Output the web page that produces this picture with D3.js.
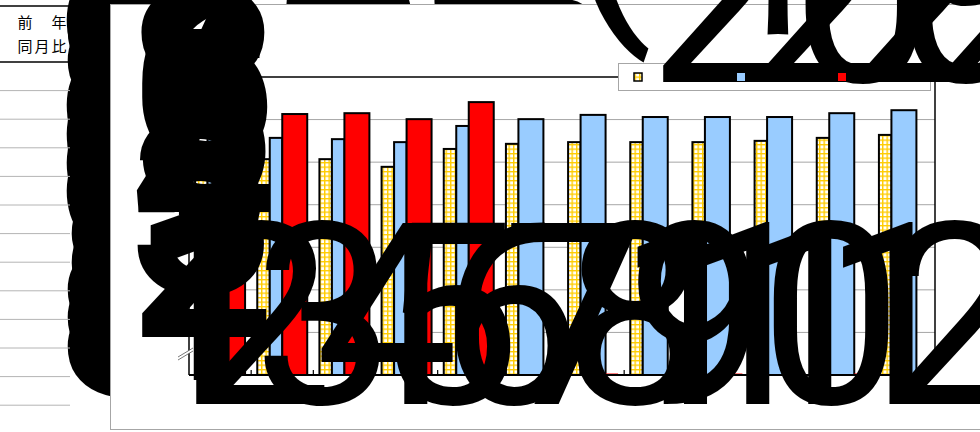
<!DOCTYPE html>
<html>
<head>
<meta charset="utf-8">
<script src="https://cdn.jsdelivr.net/npm/d3@7"></script>
<style>
  body { margin: 0; background: #fff; }
  svg { display: block; }
  .big { font-family: Roboto, "Liberation Sans", Arial, sans-serif; font-size: 255px; }
</style>
</head>
<body>
<div id="chart"></div>
<script>
// data
var months = [1, 2, 3, 4, 5, 6, 7, 8, 9, 10, 11, 12];
var monthLabels = ["1", "2", "3", "4", "5", "6", "7", "8", "9", "10", "11", "12"];
var seriesNames = ["2023年", "2024年", "2025年"];
var values2023 = [6.10, 6.07, 6.07, 5.89, 6.31, 6.43, 6.47, 6.47, 6.47, 6.50, 6.57, 6.64];
var values2024 = [6.59, 6.57, 6.54, 6.47, 6.85, 7.01, 7.11, 7.06, 7.06, 7.06, 7.15, 7.22];
var values2025 = [7.15, 7.13, 7.15, 7.01, 7.41, null, null, null, null, null, null, null];
var yTicks = [1, 2, 3, 4, 5, 6, 7, 8];
var unitLabel = "(千t)";
var tableHeader = ["前　年", "同月比"];

var W = 980, H = 432;

var svg = d3.select("#chart").append("svg")
    .attr("width", W)
    .attr("height", H);

var defs = svg.append("defs");
var pat = defs.append("pattern")
    .attr("id", "grid")
    .attr("patternUnits", "userSpaceOnUse")
    .attr("width", 4.5)
    .attr("height", 4.5);
pat.append("rect").attr("width", 4.5).attr("height", 4.5).attr("fill", "#fff");
pat.append("path")
    .attr("d", "M0,0.7H4.5M0.7,0V4.5")
    .attr("stroke", "#FFCC00")
    .attr("stroke-width", 1.4);

// ---- spreadsheet table on the left ----
var rowH = 28.6, tableTop = 62;
var table = svg.append("g");

// ratio column: latest year against the year before
var ratios = months.map(function (m, i) {
    var cur = values2025[i] != null ? values2025[i] : values2024[i];
    var prev = values2025[i] != null ? values2024[i] : values2023[i];
    return ((cur / prev - 1) * 100).toFixed(1) + "%";
});

table.selectAll("text.ratio")
    .data(ratios)
    .enter().append("text")
    .attr("class", "ratio big")
    .attr("x", 56)
    .attr("y", function (d, i) { return tableTop + (i + 0.5) * rowH + 5; })
    .style("font-weight", "bold")
    .text(function (d) { return d; });

table.selectAll("line.row")
    .data(d3.range(1, 13))
    .enter().append("line")
    .attr("x1", 0).attr("x2", 70)
    .attr("y1", function (d) { return tableTop + d * rowH; })
    .attr("y2", function (d) { return tableTop + d * rowH; })
    .attr("stroke", "#b4b4b4")
    .attr("stroke-width", 1);

table.append("line").attr("x1", 0).attr("x2", 72).attr("y1", 6).attr("y2", 6)
    .attr("stroke", "#000").attr("stroke-width", 1.5);
table.append("line").attr("x1", 0).attr("x2", 72).attr("y1", 62).attr("y2", 62)
    .attr("stroke", "#000").attr("stroke-width", 1.5);

table.selectAll("text.head")
    .data(tableHeader)
    .enter().append("text")
    .attr("class", "head")
    .attr("x", 43)
    .attr("y", function (d, i) { return 28 + i * 24; })
    .attr("text-anchor", "middle")
    .style("font-family", "'Noto Sans CJK JP', sans-serif")
    .style("font-size", "15px")
    .style("letter-spacing", "2px")
    .text(function (d) { return d; });

// ---- chart object ----
svg.append("rect")
    .attr("x", 110.5).attr("y", 4.5)
    .attr("width", 900).attr("height", 425)
    .attr("fill", "#fff")
    .attr("stroke", "#a6a6a6");

var plotLeft = 189, plotRight = 935, plotTop = 77, plotBottom = 375;

var x = d3.scaleBand()
    .domain(months)
    .range([plotLeft, plotRight])
    .paddingInner(0.196)
    .paddingOuter(0.098);

var y = d3.scaleLinear()
    .domain([yTicks[0], yTicks[yTicks.length - 1]])
    .range([plotBottom, plotTop]);

var plot = svg.append("g");

plot.selectAll("line.grid")
    .data(yTicks.slice(1, -1))
    .enter().append("line")
    .attr("x1", plotLeft).attr("x2", plotRight)
    .attr("y1", function (d) { return y(d); })
    .attr("y2", function (d) { return y(d); })
    .attr("stroke", "#a6a6a6")
    .attr("stroke-width", 1);

// bars: four slots per month, the last bar of a month takes two
var slot = x.bandwidth() / 4;
var bars = [];
months.forEach(function (m, i) {
    var x0 = x(m);
    var hasRed = values2025[i] != null;
    bars.push({ x: x0, w: slot, v: values2023[i], fill: "url(#grid)" });
    bars.push({ x: x0 + slot, w: hasRed ? slot : 2 * slot, v: values2024[i], fill: "#99CCFF" });
    if (hasRed) {
        bars.push({ x: x0 + 2 * slot, w: 2 * slot, v: values2025[i], fill: "#FF0000" });
    } else {
        bars.push({ x: x0 + 3 * slot, w: slot, v: null, fill: "#FF0000" });
    }
});

plot.selectAll("rect.bar")
    .data(bars.filter(function (d) { return d.v != null; }))
    .enter().append("rect")
    .attr("class", "bar")
    .attr("x", function (d) { return d.x; })
    .attr("y", function (d) { return y(d.v); })
    .attr("width", function (d) { return d.w; })
    .attr("height", function (d) { return plotBottom - y(d.v); })
    .attr("fill", function (d) { return d.fill; })
    .attr("stroke", "#000")
    .attr("stroke-width", 2);

plot.selectAll("rect.empty")
    .data(bars.filter(function (d) { return d.v == null; }))
    .enter().append("rect")
    .attr("class", "empty")
    .attr("x", function (d) { return d.x; })
    .attr("y", plotBottom - 1.5)
    .attr("width", function (d) { return d.w; })
    .attr("height", 1.5)
    .attr("fill", "#FF0000");

// frame of the plot
plot.append("line").attr("x1", plotLeft).attr("x2", plotRight).attr("y1", plotTop).attr("y2", plotTop)
    .attr("stroke", "#000").attr("stroke-width", 1.5);
plot.append("line").attr("x1", plotRight).attr("x2", plotRight).attr("y1", plotTop).attr("y2", plotBottom)
    .attr("stroke", "#000").attr("stroke-width", 1.5);
plot.append("line").attr("x1", plotLeft).attr("x2", plotLeft).attr("y1", plotTop).attr("y2", plotBottom)
    .attr("stroke", "#000").attr("stroke-width", 1.5);
plot.append("line").attr("x1", plotLeft).attr("x2", plotRight).attr("y1", plotBottom).attr("y2", plotBottom)
    .attr("stroke", "#000").attr("stroke-width", 2);

// inside ticks between months
plot.selectAll("line.tick")
    .data(months.slice(1))
    .enter().append("line")
    .attr("x1", function (d) { return x(d) - x.step() * x.paddingInner() / 2; })
    .attr("x2", function (d) { return x(d) - x.step() * x.paddingInner() / 2; })
    .attr("y1", plotBottom).attr("y2", plotBottom - 5)
    .attr("stroke", "#000").attr("stroke-width", 1.2);

// axis break mark
var brk = plot.append("g").attr("transform", "translate(" + plotLeft + "," + (plotBottom - 22) + ")");
brk.append("polygon").attr("points", "-11,4 4,-5 4,-2 -11,7").attr("fill", "#fff");
brk.append("line").attr("x1", -11).attr("y1", 4).attr("x2", 4).attr("y2", -5)
    .attr("stroke", "#555").attr("stroke-width", 0.8);
brk.append("line").attr("x1", -11).attr("y1", 7).attr("x2", 4).attr("y2", -2)
    .attr("stroke", "#555").attr("stroke-width", 0.8);

// legend
var legend = svg.append("g");
legend.append("rect")
    .attr("x", 618.5).attr("y", 63.5)
    .attr("width", 312).attr("height", 27)
    .attr("fill", "#fff")
    .attr("stroke", "#a6a6a6");

var legendFills = ["url(#grid)", "#99CCFF", "#FF0000"];
var legendX = [634, 737, 838];

legend.selectAll("text.key")
    .data(seriesNames)
    .enter().append("text")
    .attr("class", "key big")
    .attr("x", function (d, i) { return legendX[i] + 14; })
    .attr("y", 82)
    .text(function (d) { return d; });

legend.selectAll("rect.key")
    .data(seriesNames)
    .enter().append("rect")
    .attr("class", "key")
    .attr("x", function (d, i) { return legendX[i]; })
    .attr("y", 73)
    .attr("width", 8).attr("height", 8)
    .attr("fill", function (d, i) { return legendFills[i]; })
    .attr("stroke", function (d, i) { return i === 0 ? "#000" : "none"; })
    .attr("stroke-width", 1.5);

// axis labels
svg.selectAll("text.ylab")
    .data(yTicks)
    .enter().append("text")
    .attr("class", "ylab big")
    .attr("x", 276)
    .attr("y", function (d) { return y(d) + 5; })
    .attr("text-anchor", "end")
    .style("font-weight", "bold")
    .text(function (d) { return d; });

svg.selectAll("text.xlab")
    .data(months)
    .enter().append("text")
    .attr("class", "xlab big")
    .attr("x", function (d) { return x(d) + x.bandwidth() / 2 - 20; })
    .attr("y", 404)
    .attr("text-anchor", "middle")
    .text(function (d, i) { return monthLabels[i]; });

svg.append("text")
    .attr("class", "big")
    .attr("x", 566)
    .attr("y", 4)
    .text(unitLabel);
</script>
</body>
</html>
